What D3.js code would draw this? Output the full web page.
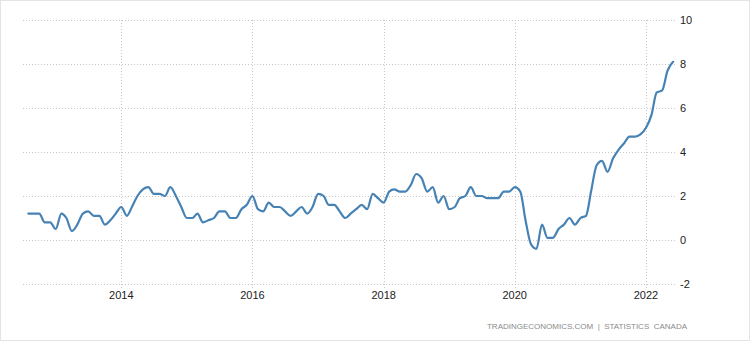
<!DOCTYPE html>
<html>
<head>
<meta charset="utf-8">
<script src="https://cdn.jsdelivr.net/npm/d3@7"></script>
<style>
  html, body { margin: 0; padding: 0; background: #fff; }
  #plot { width: 751px; height: 342px; }
</style>
</head>
<body>
<div id="plot"></div>
<script>
// Canada inflation rate, monthly, Aug 2012 - Jun 2022
const startMonth = "2012-08";
const values = [
  1.2, 1.2, 1.2, 0.8, 0.8,                                   // 2012 Aug-Dec
  0.5, 1.2, 1.0, 0.4, 0.7, 1.2, 1.3, 1.1, 1.1, 0.7, 0.9, 1.2, // 2013
  1.5, 1.1, 1.5, 2.0, 2.3, 2.4, 2.1, 2.1, 2.0, 2.4, 2.0, 1.5, // 2014
  1.0, 1.0, 1.2, 0.8, 0.9, 1.0, 1.3, 1.3, 1.0, 1.0, 1.4, 1.6, // 2015
  2.0, 1.4, 1.3, 1.7, 1.5, 1.5, 1.3, 1.1, 1.3, 1.5, 1.2, 1.5, // 2016
  2.1, 2.0, 1.6, 1.6, 1.3, 1.0, 1.2, 1.4, 1.6, 1.4, 2.1, 1.9, // 2017
  1.7, 2.2, 2.3, 2.2, 2.2, 2.5, 3.0, 2.8, 2.2, 2.4, 1.7, 2.0, // 2018
  1.4, 1.5, 1.9, 2.0, 2.4, 2.0, 2.0, 1.9, 1.9, 1.9, 2.2, 2.2, // 2019
  2.4, 2.2, 0.9, -0.2, -0.4, 0.7, 0.1, 0.1, 0.5, 0.7, 1.0, 0.7, // 2020
  1.0, 1.1, 2.2, 3.4, 3.6, 3.1, 3.7, 4.1, 4.4, 4.7, 4.7, 4.8, // 2021
  5.1, 5.7, 6.7, 6.8, 7.7, 8.1                               // 2022 Jan-Jun
];
const yTicks = [-2, 0, 2, 4, 6, 8, 10];
const xTickYears = [2014, 2016, 2018, 2020, 2022];
const sourceText = "TRADINGECONOMICS.COM  |  STATISTICS  CANADA";

const W = 751, H = 342;
const parseMonth = d3.timeParse("%Y-%m");
const t0 = parseMonth(startMonth);
const data = values.map((v, i) => ({ date: d3.timeMonth.offset(t0, i), value: v }));

const svg = d3.select("#plot")
  .append("svg")
  .attr("width", W)
  .attr("height", H)
  .style("font-family", "'Liberation Sans', Arial, sans-serif");

// outer frame
svg.append("rect")
  .attr("x", 0.5).attr("y", 0.5)
  .attr("width", W - 2).attr("height", H - 2)
  .attr("fill", "#fff")
  .attr("stroke", "#e4e4e4");

const x = d3.scaleTime()
  .domain([new Date(2014, 0, 1), new Date(2022, 0, 1)])
  .range([121.3, 646]);

const y = d3.scaleLinear()
  .domain([-2, 10])
  .range([284, 20]);

const gridLeft = 23, gridRight = 676;

// horizontal grid
svg.append("g")
  .selectAll("line")
  .data(yTicks)
  .enter()
  .append("line")
  .attr("x1", gridLeft)
  .attr("x2", gridRight)
  .attr("y1", d => Math.round(y(d)) + 0.5)
  .attr("y2", d => Math.round(y(d)) + 0.5)
  .attr("stroke", "#c8c8c8")
  .attr("stroke-dasharray", "1,2");

// vertical grid
svg.append("g")
  .selectAll("line")
  .data(xTickYears)
  .enter()
  .append("line")
  .attr("x1", d => Math.round(x(new Date(d, 0, 1))) + 0.5)
  .attr("x2", d => Math.round(x(new Date(d, 0, 1))) + 0.5)
  .attr("y1", y(10))
  .attr("y2", y(-2) + 5)
  .attr("stroke", "#c8c8c8")
  .attr("stroke-dasharray", "1,2");

// y labels (right side)
svg.append("g")
  .selectAll("text")
  .data(yTicks)
  .enter()
  .append("text")
  .attr("x", 680)
  .attr("y", d => y(d) + 4)
  .attr("font-size", "11px")
  .attr("fill", "#222")
  .text(d => d);

// x labels
svg.append("g")
  .selectAll("text")
  .data(xTickYears)
  .enter()
  .append("text")
  .attr("x", d => x(new Date(d, 0, 1)))
  .attr("y", 299)
  .attr("text-anchor", "middle")
  .attr("font-size", "11px")
  .attr("fill", "#222")
  .text(d => d);

// line
const line = d3.line()
  .x(d => x(d.date))
  .y(d => y(d.value))
  .curve(d3.curveMonotoneX);

svg.append("path")
  .datum(data)
  .attr("d", line)
  .attr("fill", "none")
  .attr("stroke", "#4682b4")
  .attr("stroke-width", 2.2)
  .attr("stroke-linejoin", "round")
  .attr("stroke-linecap", "round");

// source
svg.append("text")
  .attr("x", 687)
  .attr("y", 329)
  .attr("text-anchor", "end")
  .attr("font-size", "8px")
  .attr("fill", "#8a8a8a")
  .attr("xml:space", "preserve")
  .text(sourceText);
</script>
</body>
</html>
